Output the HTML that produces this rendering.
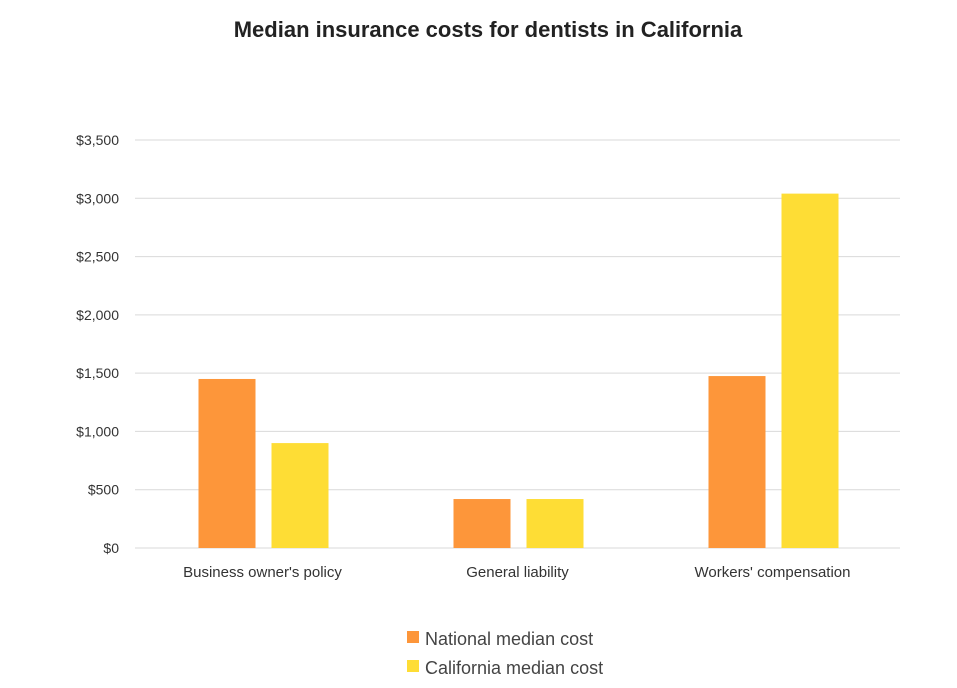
<!DOCTYPE html>
<html><head><meta charset="utf-8"><style>
body{margin:0;background:#fff;font-family:"Liberation Sans",sans-serif;}
svg text{font-family:"Liberation Sans",sans-serif;}
</style></head><body>
<svg width="957" height="683">
<text x="488" y="37" text-anchor="middle" font-size="22" font-weight="bold" fill="#222">Median insurance costs for dentists in California</text>
<g id="grid"></g><g id="bars"></g><g id="labels"></g>
<g>
<rect x="407" y="631" width="12" height="12" fill="#fd963a"/>
<text x="425" y="645" font-size="18" fill="#444">National median cost</text>
<rect x="407" y="660" width="12" height="12" fill="#fedd35"/>
<text x="425" y="674" font-size="18" fill="#444">California median cost</text>
</g>
</svg>
<script>
const categories=["Business owner's policy","General liability","Workers' compensation"];
const national=[1450,420,1475];
const california=[900,420,3040];
const ticks=[0,500,1000,1500,2000,2500,3000,3500];
const tickLabels=["$0","$500","$1,000","$1,500","$2,000","$2,500","$3,000","$3,500"];
const NS="http://www.w3.org/2000/svg";
const y0=548,y1=140,vmax=3500,xL=135,xR=900;
const y=v=>y0-(v/vmax)*(y0-y1);
const band=(xR-xL)/categories.length;
const cx=i=>xL+band*(i+0.5);
function mk(t,a,p){const e=document.createElementNS(NS,t);for(const k in a)e.setAttribute(k,a[k]);p.appendChild(e);return e;}
const g=document.getElementById('grid');
ticks.forEach((t,i)=>{
 const l=mk('line',{x1:xL,x2:xR,y1:y(t),y2:y(t),stroke:'#d9d9d9','stroke-width':1},g);
 
 
 const tx=mk('text',{x:119,y:y(t)+5,'text-anchor':'end','font-size':14,fill:'#333'},g);
 tx.textContent=tickLabels[i];
 
 
});
const b=document.getElementById('bars'),lb=document.getElementById('labels');
categories.forEach((c,i)=>{
 const r1=mk('rect',{x:cx(i)-64,y:y(national[i]),width:57,height:y0-y(national[i]),fill:'#fd963a'},b);
 
 
 const r2=mk('rect',{x:cx(i)+9,y:y(california[i]),width:57,height:y0-y(california[i]),fill:'#fedd35'},b);
 
 
 const t=mk('text',{x:cx(i),y:577,'text-anchor':'middle','font-size':15,fill:'#333'},lb);
 t.textContent=c;
 
 
});
</script>
</body></html>
